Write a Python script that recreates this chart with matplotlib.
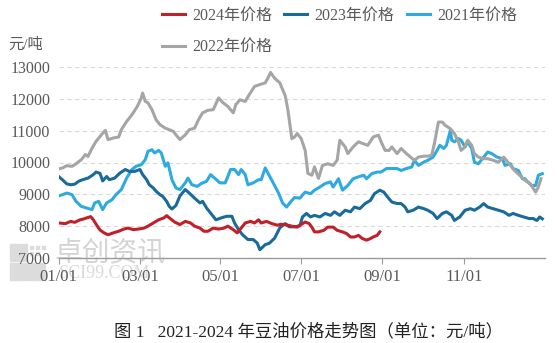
import matplotlib
matplotlib.use('Agg')
import matplotlib.pyplot as plt
from matplotlib.patches import Rectangle
import numpy as np

# day offsets from 01/01 and prices (yuan/ton)
days_2024 = [0, 5, 9, 12, 16, 19, 21, 24, 26, 29, 31, 34, 37, 41, 45, 49, 52, 56, 60, 64,
             67, 71, 75, 79, 81, 84, 87, 91, 95, 99, 102, 106, 109, 112, 116, 120, 124, 127, 131, 134,
             136, 140, 144, 147, 150, 152, 156, 160, 164, 167, 171, 175, 179, 181, 185, 188, 190, 192, 195, 199,
             202, 206, 209, 213, 216, 219, 222, 225, 228, 231, 234, 236, 239, 241]
price_2024 = [8100, 8080, 8150, 8120, 8200, 8230, 8260, 8300, 8200, 8000, 7880, 7790, 7730, 7790, 7840, 7910, 7940, 7890, 7910, 7940,
              8000, 8100, 8200, 8260, 8330, 8230, 8130, 8050, 8150, 8100, 8000, 7940, 7840, 7840, 7940, 7910, 7940, 8000, 7890, 7790,
              7890, 8100, 8150, 8100, 8200, 8100, 8150, 8080, 8030, 8060, 8040, 8000, 7970, 8030, 8130, 8080, 7970, 7820, 7820, 7870,
              7970, 7970, 7870, 7820, 7770, 7660, 7660, 7710, 7610, 7560, 7610, 7660, 7710, 7820]

days_2023 = [0, 3, 6, 9, 12, 15, 18, 22, 26, 28, 31, 33, 36, 38, 42, 46, 50, 53, 57, 61,
             63, 66, 68, 71, 73, 76, 78, 81, 83, 85, 88, 91, 95, 98, 102, 106, 108, 111, 115, 118,
             122, 126, 130, 132, 135, 138, 142, 146, 149, 151, 155, 158, 162, 166, 170, 173, 177, 181, 183, 186,
             189, 192, 196, 200, 204, 207, 211, 215, 219, 222, 226, 230, 234, 237, 241, 244, 246, 250, 254, 257,
             260, 262, 266, 270, 274, 277, 281, 284, 288, 291, 295, 297, 301, 305, 309, 312, 316, 319, 322, 326,
             330, 334, 338, 341, 345, 349, 353, 356, 359, 361, 363]
price_2023 = [9560, 9450, 9330, 9300, 9320, 9410, 9460, 9510, 9620, 9700, 9660, 9420, 9560, 9460, 9510, 9670, 9780, 9720, 9720, 9780,
              9620, 9460, 9300, 9200, 9100, 8990, 8940, 8780, 8620, 8540, 8650, 8950, 9150, 9040, 8880, 8730, 8780, 8570, 8360, 8200,
              8260, 8310, 8310, 8100, 7890, 7730, 7580, 7580, 7470, 7260, 7420, 7460, 7620, 7950, 8080, 7980, 7980, 8010, 8290, 8400,
              8290, 8340, 8290, 8400, 8340, 8450, 8340, 8500, 8450, 8600, 8550, 8710, 8810, 9020, 9130, 9070, 8960, 8760, 8710, 8710,
              8600, 8450, 8500, 8600, 8550, 8500, 8400, 8240, 8400, 8450, 8340, 8180, 8290, 8500, 8550, 8500, 8600, 8710, 8600, 8550,
              8500, 8450, 8340, 8400, 8340, 8290, 8240, 8240, 8180, 8290, 8230]

days_2021 = [0, 3, 6, 10, 13, 17, 21, 25, 27, 30, 33, 36, 40, 43, 47, 51, 55, 58, 62, 65,
             67, 70, 72, 75, 77, 80, 82, 85, 88, 91, 95, 97, 100, 104, 107, 111, 114, 117, 121, 125,
             129, 132, 135, 137, 140, 142, 146, 150, 152, 155, 157, 161, 165, 168, 171, 174, 177, 181, 185, 189,
             192, 196, 200, 204, 206, 210, 213, 217, 221, 225, 229, 231, 235, 239, 242, 246, 250, 254, 257, 261,
             265, 267, 270, 274, 277, 281, 284, 286, 289, 291, 294, 295, 297, 300, 302, 305, 307, 310, 312, 315,
             319, 322, 325, 329, 333, 335, 339, 341, 345, 348, 350, 352, 355, 358, 360, 363]
price_2021 = [8950, 8990, 9040, 8990, 8780, 8620, 8570, 8520, 8730, 8780, 8520, 8730, 8830, 8990, 9150, 9510, 9780, 9880, 9930, 10090,
              10350, 10400, 10300, 10380, 10300, 9880, 9990, 9460, 9200, 9150, 9360, 9510, 9300, 9250, 9340, 9410, 9620, 9510, 9360, 9360,
              9780, 9780, 9620, 9780, 9620, 9300, 9360, 9460, 9460, 9830, 9670, 9360, 9040, 8730, 8600, 8760, 8900, 8880, 9070, 9020,
              9130, 9230, 9340, 9390, 9230, 9490, 9130, 9280, 9490, 9550, 9600, 9490, 9650, 9700, 9700, 9810, 9810, 9810, 9750, 9810,
              9860, 10070, 9910, 10010, 10070, 10170, 10380, 10540, 10440, 10540, 11010, 10700, 10650, 10750, 10700, 10490, 10650, 10440, 10010, 9960,
              10170, 10330, 10280, 10170, 10120, 9910, 9960, 9810, 9750, 9490, 9490, 9390, 9280, 9280, 9600, 9650]

days_2022 = [0, 3, 6, 10, 13, 17, 20, 22, 25, 28, 32, 35, 37, 41, 45, 47, 51, 55, 59, 62,
             63, 65, 67, 70, 73, 76, 80, 83, 86, 88, 91, 95, 98, 102, 105, 108, 112, 116, 120, 123,
             127, 131, 133, 136, 140, 143, 147, 151, 155, 157, 159, 162, 166, 170, 172, 175, 177, 179, 182, 185,
             187, 190, 192, 195, 198, 202, 206, 209, 211, 215, 217, 221, 225, 228, 232, 236, 240, 242, 245, 248,
             250, 254, 257, 261, 264, 267, 270, 274, 277, 280, 282, 285, 288, 290, 294, 297, 300, 302, 305, 307,
             310, 312, 315, 319, 322, 326, 330, 334, 336, 339, 342, 346, 350, 354, 358, 360, 362]
price_2022 = [9800, 9830, 9900, 9880, 9960, 10090, 10250, 10190, 10450, 10660, 10870, 11010, 10720, 10770, 10800, 11030, 11290, 11500, 11760, 12030,
              12180, 11920, 11870, 11660, 11350, 11190, 11080, 11030, 10980, 10870, 10720, 10870, 11030, 11080, 11350, 11560, 11640, 11660, 12030, 11890,
              11760, 11560, 11820, 11970, 11920, 12130, 12390, 12450, 12500, 12650, 12830, 12650, 12500, 12100, 11660, 10750, 10800, 10910, 10750, 10380,
              9660, 9600, 9860, 9500, 9910, 9960, 9910, 10070, 10700, 10490, 10280, 10490, 10650, 10600, 10540, 10800, 10860, 10650, 10380, 10380,
              10490, 10280, 10440, 10280, 10170, 10070, 10170, 10200, 10200, 10230, 10600, 11270, 11270, 11170, 11060, 10910, 10650, 10380, 10490, 10700,
              10540, 10280, 10170, 10120, 10120, 10070, 10010, 10170, 10070, 9910, 9750, 9600, 9440, 9330, 9070, 9230, 9490]

tick_days = [0, 61, 121, 182, 243, 304]
tick_labels = ['01/01', '03/01', '05/01', '07/01', '09/01', '11/01']

c_2024 = '#c0202a'
c_2023 = '#1a6a9a'
c_2021 = '#2eaae1'
c_2022 = '#a5a5a5'
grey_txt = '#595959'
mixed = ['Liberation Serif', 'Noto Sans CJK SC']

fig = plt.figure(figsize=(5.57, 3.43), dpi=100)
W, H = 557, 343
ax = fig.add_axes([58.7 / W, (H - 258) / H, (545 - 58.7) / W, (258 - 67) / H])
ax.set_facecolor('none')

# watermark + logo
for (x0, y0, w, h) in [(10, 244, 8, 8), (19, 244, 8, 8), (10, 253, 8, 8), (19, 253, 8, 8),
                       (10, 263, 17, 17), (28, 263, 17, 17), (30, 246, 3, 3), (36, 246, 3, 3),
                       (30, 252, 3, 3), (36, 252, 3, 3), (42, 246, 3, 3)]:
    fig.patches.append(Rectangle((x0 / W, 1 - (y0 + h) / H), w / W, h / H,
                                 transform=fig.transFigure, color='#dcdcdc', zorder=-2))
fig.text(110 / W, 1 - 253 / H, '卓创资讯', family='Noto Sans CJK SC', fontsize=20,
         color='#d4d4d4', ha='center', va='center', zorder=-1)
fig.text(105 / W, 1 - 274 / H, 'SCI99.COM', family='Liberation Serif', fontsize=13,
         color='#dadada', ha='center', va='center', zorder=-1)

ax.plot(days_2021, price_2021, color=c_2021, lw=2.2, label='2021年价格', solid_joinstyle='round')
ax.plot(days_2022, price_2022, color=c_2022, lw=2.2, label='2022年价格', solid_joinstyle='round')
ax.plot(days_2023, price_2023, color=c_2023, lw=2.2, label='2023年价格', solid_joinstyle='round')
ax.plot(days_2024, price_2024, color=c_2024, lw=2.2, label='2024年价格', solid_joinstyle='round')

ax.set_xlim(0, 365)
ax.set_ylim(7000, 13000)
ax.set_yticks(np.arange(7000, 13001, 1000))
ax.set_xticks(tick_days)
ax.set_xticklabels(tick_labels)
for s in ['top', 'right', 'left']:
    ax.spines[s].set_visible(False)
ax.spines['bottom'].set_color('#9a9a9a')
ax.spines['bottom'].set_linewidth(1.0)
ax.tick_params(axis='y', length=0, pad=6, labelsize=11.5, labelcolor=grey_txt)
ax.tick_params(axis='x', length=4, direction='out', color='#9a9a9a', pad=4,
               labelsize=12, labelcolor=grey_txt)
for lab in ax.get_xticklabels() + ax.get_yticklabels():
    lab.set_family('Liberation Serif')
for y in range(8000, 13001, 1000):
    ax.axhline(y, color='#d9d9d9', lw=0.8, ls=(0, (4, 3)), zorder=0)

h = {l.get_label(): l for l in ax.get_lines()}
order = ['2024年价格', '2022年价格', '2023年价格', '2021年价格']
fig.legend([h[k] for k in order], order, loc='upper left', ncol=3,
           bbox_to_anchor=(162 / W, 1 - 8 / H), frameon=False,
           prop={'family': mixed, 'size': 11.5}, labelcolor=grey_txt,
           handlelength=1.45, handletextpad=0.45, columnspacing=0.75,
           labelspacing=0.95, borderpad=0, borderaxespad=0)

fig.text(8 / W, 1 - 45 / H, '元/吨', family=mixed, fontsize=11, color=grey_txt,
         ha='left', va='center')
fig.text(308 / W, 1 - 332 / H, '图 1   2021-2024 年豆油价格走势图（单位：元/吨）',
         family=mixed, fontsize=12.5, color='#222222', ha='center', va='center')

fig.savefig('out.png', dpi=100, facecolor='white')
